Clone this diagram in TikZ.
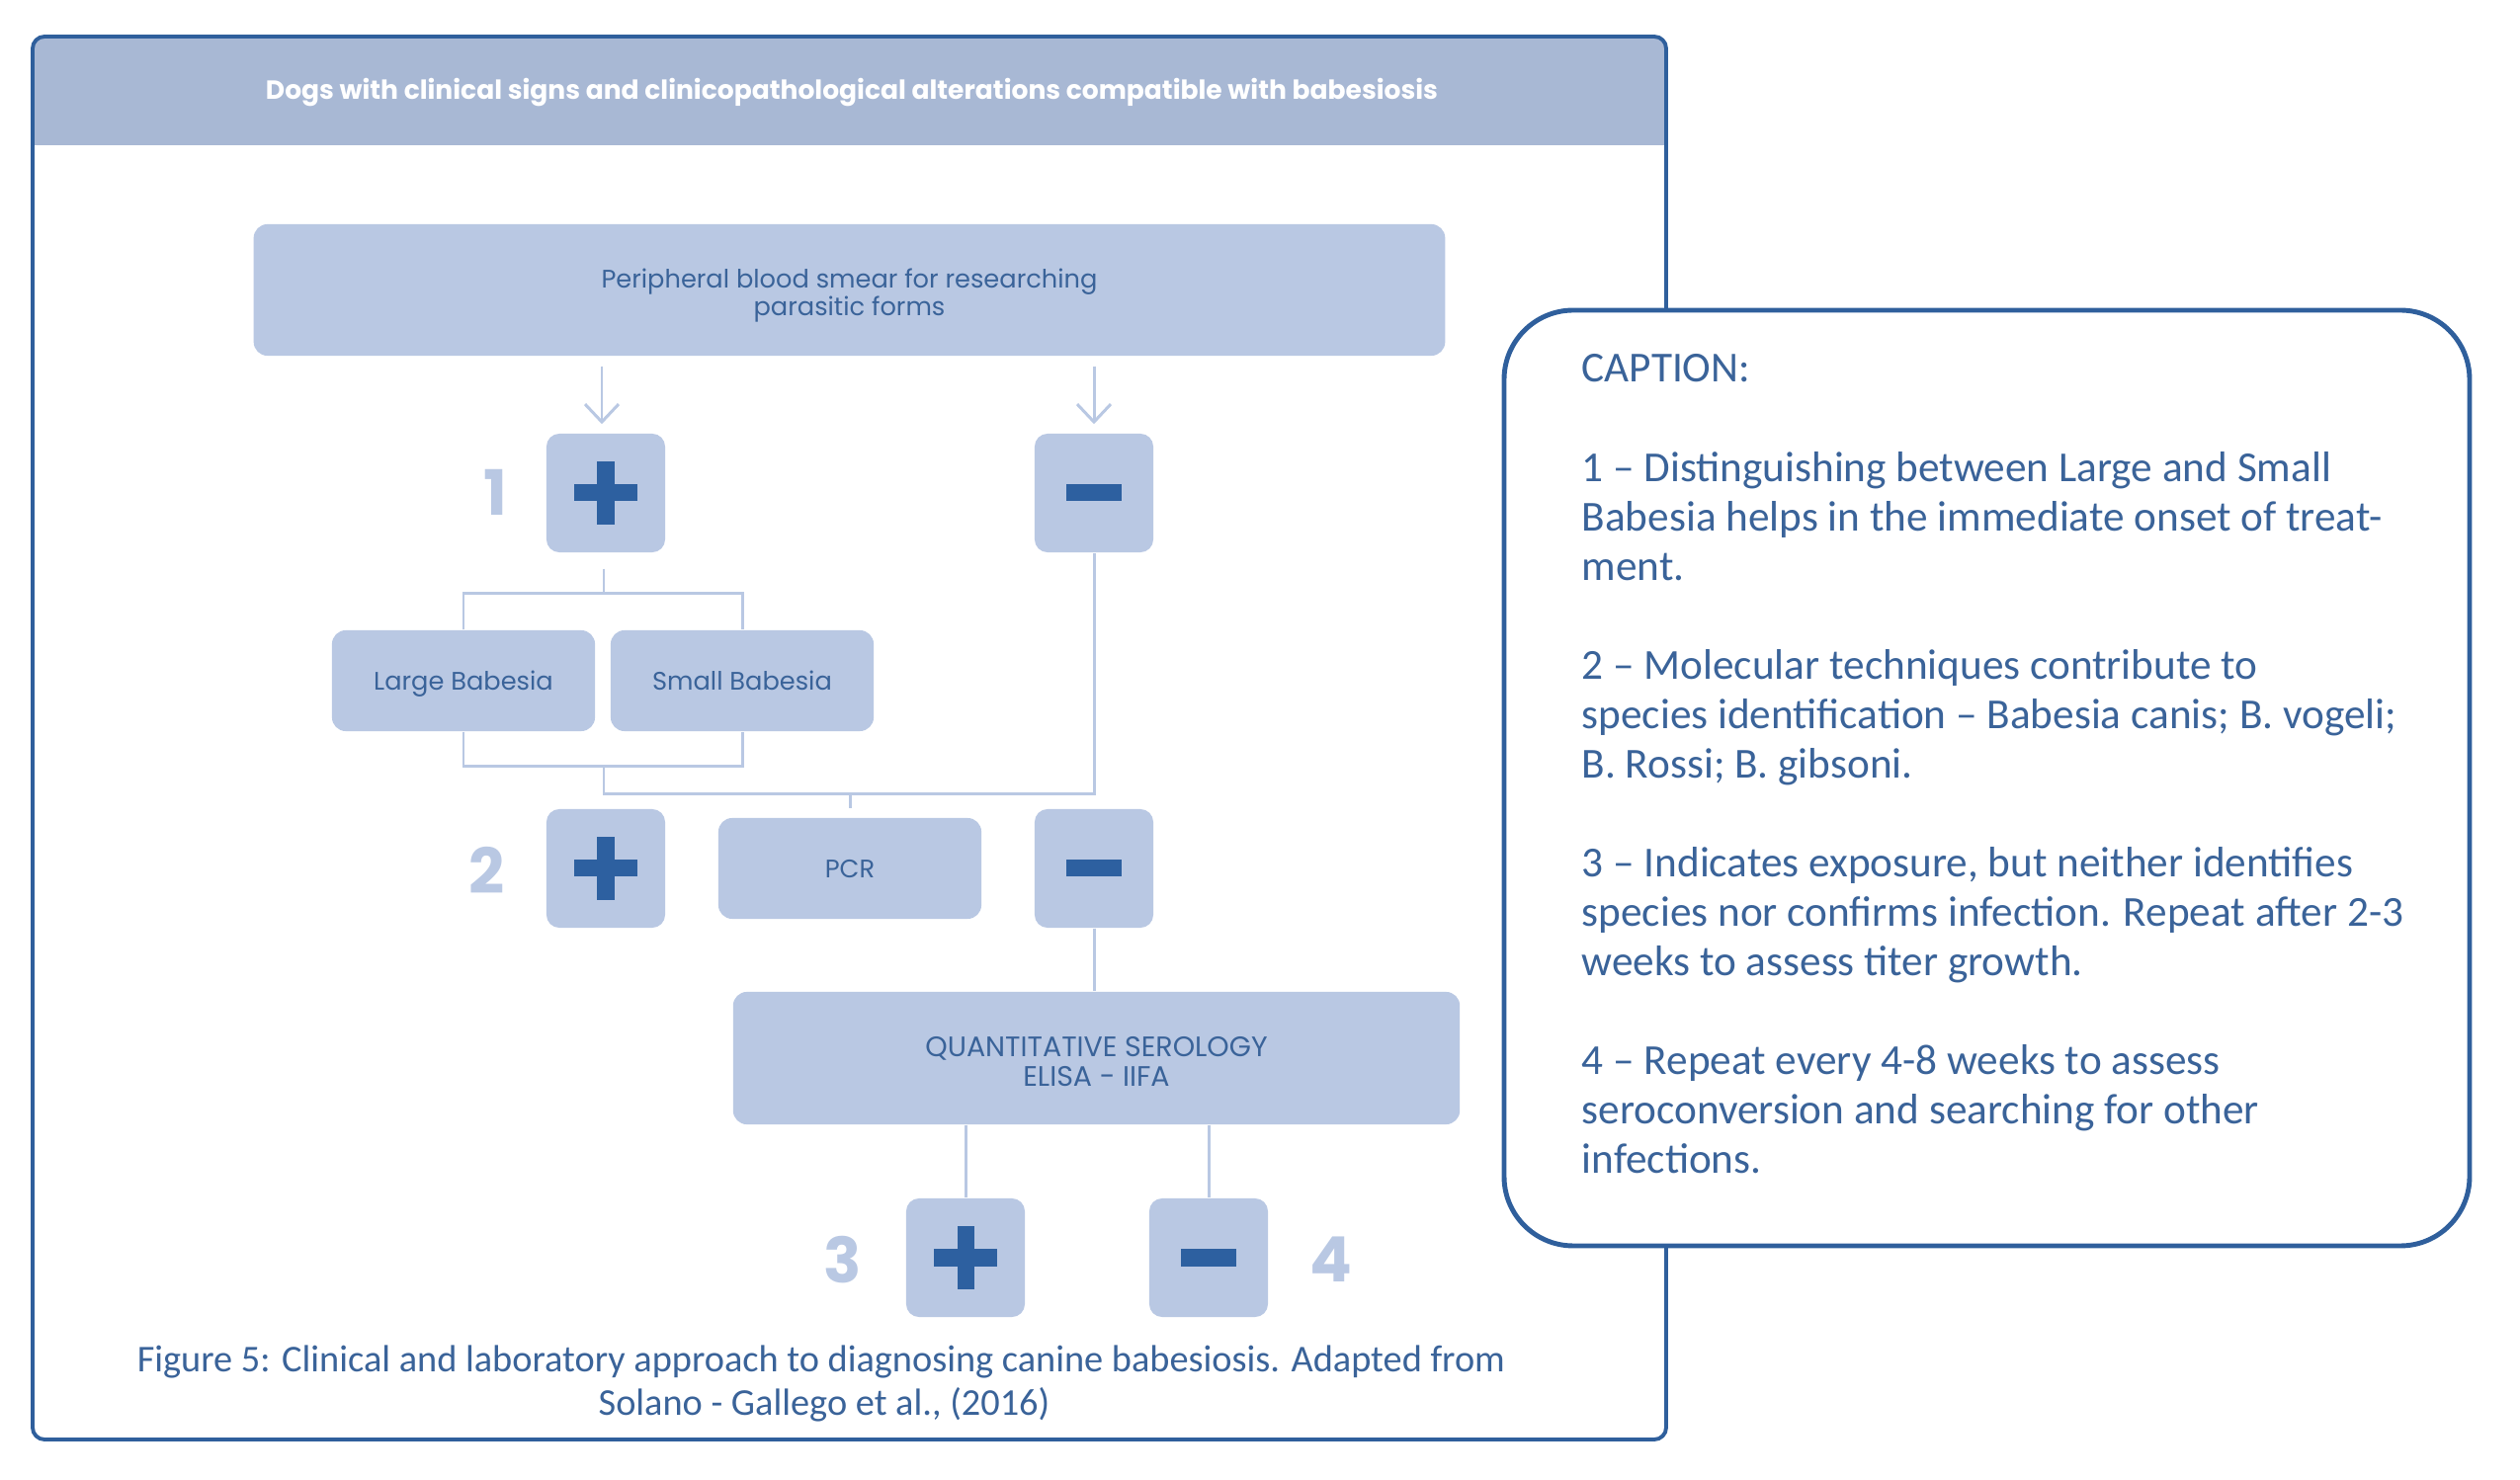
\documentclass[tikz,border=0pt]{standalone}
\usepackage{fontspec}
\setmainfont{Carlito}
\newfontfamily\popp{Poppins}
\usetikzlibrary{arrows.meta}
\definecolor{frameblue}{HTML}{2F5F9C}
\definecolor{signblue}{HTML}{2D60A0}
\definecolor{textblue}{HTML}{3A6399}
\definecolor{boxfill}{HTML}{B9C8E3}
\definecolor{hdrfill}{HTML}{A8B8D4}
\begin{document}
\begin{tikzpicture}[x=0.01cm,y=-0.01cm,
  box/.style={fill=boxfill, rounded corners=0.14cm, inner sep=0pt, align=center, text=textblue, font=\popp\fontsize{7.3}{7.8}\selectfont},
  onebox/.style={box, minimum width=2.66cm, minimum height=1.02cm, text height=5.2pt, text depth=0pt},
  sign/.style={fill=boxfill, rounded corners=0.13cm, minimum width=1.2cm, minimum height=1.2cm, inner sep=0pt},
  plusbox/.style={sign, path picture={
     \fill[signblue, sharp corners] ([shift={(-0.32cm,-0.085cm)}]path picture bounding box.center) rectangle ([shift={(0.32cm,0.085cm)}]path picture bounding box.center);
     \fill[signblue, sharp corners] ([shift={(-0.085cm,-0.32cm)}]path picture bounding box.center) rectangle ([shift={(0.085cm,0.32cm)}]path picture bounding box.center);}},
  minusbox/.style={sign, path picture={
     \fill[signblue, sharp corners] ([shift={(-0.275cm,-0.085cm)}]path picture bounding box.center) rectangle ([shift={(0.275cm,0.085cm)}]path picture bounding box.center);}},
  num/.style={text=boxfill, inner sep=0pt, font=\popp\bfseries\fontsize{18}{18}\selectfont},
  conn/.style={draw=boxfill, line width=0.85pt},
  arr/.style={conn, -{Straight Barb[length=0.18cm, width=0.34cm]}, shorten <=0.1cm, shorten >=0.09cm},
  captext/.style={text=textblue, inner sep=0pt, anchor=base west, font=\fontsize{12.3}{14.23}\selectfont},
  figtext/.style={text=textblue, inner sep=0pt, anchor=base, font=\fontsize{10.9}{12}\selectfont},
]
\useasboundingbox (0,0) rectangle (2550,1498);

% outer frame with header band
\fill[white, rounded corners=0.12cm] (33,37) rectangle (1686,1457);
\begin{scope}
  \clip[rounded corners=0.12cm] (33,37) rectangle (1686,1457);
  \fill[hdrfill] (33,37) rectangle (1686,147);
\end{scope}
\draw[frameblue, line width=1.1pt, rounded corners=0.12cm] (33,37) rectangle (1686,1457);
\node[text=white, inner sep=0pt, anchor=base, font=\popp\bfseries\fontsize{7.55}{8}\selectfont] (title) at (862,101)
  {Dogs with clinical signs and clinicopathological alterations compatible with babesiosis};

% flow nodes
\node[box, minimum width=12.05cm, minimum height=1.33cm] (smear) at (859.5,293.5)
  {\raisebox{-0.065cm}[\height][\depth]{\begin{tabular}{@{}c@{}}Peripheral blood smear for researching\\parasitic forms\end{tabular}}};
\node[plusbox] (p1) at (613,499) {};
\node[minusbox] (m1) at (1107,499) {};
\node[num] (n1) at (501,498) {1};
\node[onebox] (large) at (469,689) {Large Babesia};
\node[onebox] (small) at (751,689) {Small Babesia};
\node[plusbox] (p2) at (613,879) {};
\node[onebox] (pcr) at (860,879) {PCR};
\node[minusbox] (m2) at (1107,879) {};
\node[num] (n2) at (493,881) {2};
\node[box, minimum width=7.35cm, minimum height=1.34cm, font=\popp\fontsize{8.1}{8.4}\selectfont] (sero) at (1109.5,1071)
  {\raisebox{-0.075cm}[\height][\depth]{\begin{tabular}{@{}c@{}}QUANTITATIVE SEROLOGY\\ELISA - IIFA\end{tabular}}};
\node[plusbox] (p3) at (977,1273) {};
\node[minusbox] (m3) at (1223,1273) {};
\node[num] (n3) at (853,1275) {3};
\node[num] (n4) at (1347,1275) {4};

% connectors
\draw[arr] ([xshift=-0.04cm]smear.south -| p1) -- ([xshift=-0.04cm]p1.north);
\draw[arr] (smear.south -| m1) -- (m1.north);
\coordinate (topbar) at (611,601);
\coordinate (botbar) at (611,776);
\coordinate (join) at (611,804);
\draw[conn] ([yshift=-0.16cm]p1.south -| topbar) -- (topbar);
\draw[conn] (large.north) |- (topbar) -| (small.north);
\draw[conn] (large.south) |- (botbar) -| (small.south);
\draw[conn] (botbar) -- (join) -| (m1.south);
\draw[conn, shorten >=0.09cm] (join -| pcr.north) -- (pcr.north);
\draw[conn] (m2.south) -- (sero.north -| m2.south);
\draw[conn] (sero.south -| p3.north) -- (p3.north);
\draw[conn] (sero.south -| m3.north) -- (m3.north);

% figure caption
\node[figtext] (fig1) at (831,1389) {Figure 5: Clinical and laboratory approach to diagnosing canine babesiosis. Adapted from};
\node[figtext] (fig2) at (834,1433) {Solano - Gallego et al., (2016)};

% caption box
\draw[frameblue, line width=1.4pt, fill=white, rounded corners=0.7cm] (1522,314) rectangle (2499,1261);
\node[captext] (legend) at (1600,387) {\vtop{\baselineskip=14.23pt
  \hbox{CAPTION:}\hbox{}
  \hbox{1 – Distinguishing between Large and Small}
  \hbox{Babesia helps in the immediate onset of treat-}
  \hbox{ment.}\hbox{}
  \hbox{2 – Molecular techniques contribute to}
  \hbox{species identification – Babesia canis; B. vogeli;}
  \hbox{B. Rossi; B. gibsoni.}\hbox{}
  \hbox{3 – Indicates exposure, but neither identifies}
  \hbox{species nor confirms infection. Repeat after 2-3}
  \hbox{weeks to assess titer growth.}\hbox{}
  \hbox{4 – Repeat every 4-8 weeks to assess}
  \hbox{seroconversion and searching for other}
  \hbox{infections.}}};
\end{tikzpicture}
\end{document}
